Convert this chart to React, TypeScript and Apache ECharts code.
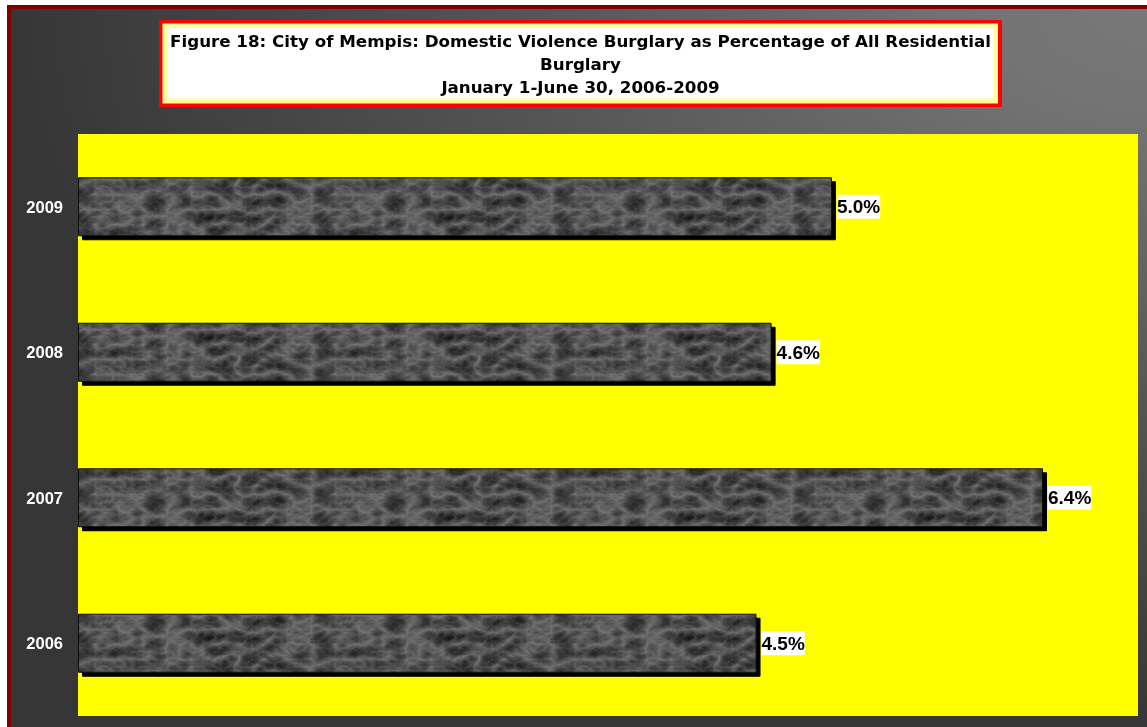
import React, { useEffect, useRef } from "react";
import * as echarts from "echarts";

const categories = ["2006", "2007", "2008", "2009"];
const values = [4.5, 6.4, 4.6, 5.0];
const titleLines = [
  "Figure 18: City of Mempis: Domestic Violence Burglary as Percentage of All Residential",
  "Burglary",
  "January 1-June 30, 2006-2009",
];

const texSvg =
  '<svg xmlns="http://www.w3.org/2000/svg" width="240" height="60">' +
  '<filter id="f" x="0" y="0" width="100%" height="100%" color-interpolation-filters="sRGB">' +
  '<feTurbulence type="turbulence" baseFrequency="0.04 0.07" numOctaves="5" seed="11" stitchTiles="stitch"/>' +
  '<feColorMatrix type="matrix" values="-0.45 0 0 0 0.47  -0.45 0 0 0 0.47  -0.45 0 0 0 0.47  0 0 0 0 1"/>' +
  "</filter>" +
  '<rect width="240" height="60" filter="url(#f)"/></svg>';
const texUrl = "data:image/svg+xml;charset=utf-8," + encodeURIComponent(texSvg);

export default function App() {
  const ref = useRef<HTMLDivElement>(null);
  useEffect(() => {
    if (!ref.current) return;
    const chart = echarts.init(ref.current, null, { renderer: "svg" });
    chart.setOption({
      animation: false,
      graphic: [
        { type: "rect", z: -30, silent: true, shape: { x: 0, y: 0, width: 1147, height: 727 }, style: { fill: "#ffffff" } },
        { type: "rect", z: -29, silent: true, shape: { x: 7, y: 5, width: 1140, height: 722 }, style: { fill: "#800000" } },
        {
          type: "rect",
          z: -28,
          silent: true,
          shape: { x: 11, y: 9, width: 1136, height: 718 },
          style: {
            fill: {
              type: "radial",
              x: 1,
              y: 0,
              r: 1,
              colorStops: [
                { offset: 0, color: "#787878" },
                { offset: 0.15, color: "#737373" },
                { offset: 0.55, color: "#555555" },
                { offset: 1, color: "#363636" },
              ],
            },
          },
        },
        { type: "rect", z: 10, silent: true, shape: { x: 159, y: 20, width: 843, height: 87 }, style: { fill: "#ff0000" } },
        { type: "rect", z: 11, silent: true, shape: { x: 162.5, y: 23.5, width: 835.5, height: 80 }, style: { fill: "#ffff99" } },
        { type: "rect", z: 12, silent: true, shape: { x: 167, y: 28, width: 827, height: 70.5 }, style: { fill: "#ffffff" } },
        {
          type: "text",
          z: 13,
          silent: true,
          style: {
            x: 580.5,
            y: 64,
            text: titleLines.join("\n"),
            align: "center",
            verticalAlign: "middle",
            fill: "#000000",
            fontFamily: "DejaVu Sans",
            fontWeight: "bold",
            fontSize: 16.7,
            lineHeight: 22.7,
          },
        },
      ],
      grid: {
        left: 78,
        right: 9,
        top: 134,
        bottom: 11,
        show: true,
        backgroundColor: "#ffff00",
        borderWidth: 0,
        outerBoundsMode: "none",
        containLabel: false,
      },
      xAxis: {
        type: "value",
        min: 0,
        max: 7.03,
        show: false,
      },
      yAxis: {
        type: "category",
        data: categories,
        axisLine: { show: false },
        axisTick: { show: false },
        splitLine: { show: false },
        axisLabel: {
          color: "#ffffff",
          fontFamily: "Liberation Sans, Arial, sans-serif",
          fontWeight: "bold",
          fontSize: 16.5,
          margin: 15,
        },
      },
      series: [
        {
          type: "bar",
          data: values,
          barWidth: 59,
          itemStyle: {
            color: { image: texUrl, repeat: "repeat", imageWidth: 240, imageHeight: 60 },
            borderColor: "#111111",
            borderWidth: 1,
            shadowColor: "#000000",
            shadowOffsetX: 4,
            shadowOffsetY: 4,
            shadowBlur: 0,
          },
          label: {
            show: true,
            position: "right",
            distance: 5,
            formatter: (p: any) => Number(p.value).toFixed(1) + "%",
            color: "#000000",
            fontFamily: "Liberation Sans, Arial, sans-serif",
            fontWeight: "bold",
            fontSize: 19,
            lineHeight: 20,
            backgroundColor: "#ffffff",
            padding: [2, 0, 2, 0],
          },
        },
      ],
    });
    return () => chart.dispose();
  }, []);
  return (
    <div
      ref={ref}
      style={{ position: "fixed", left: 0, top: 0, width: 1147, height: 727 }}
    />
  );
}
